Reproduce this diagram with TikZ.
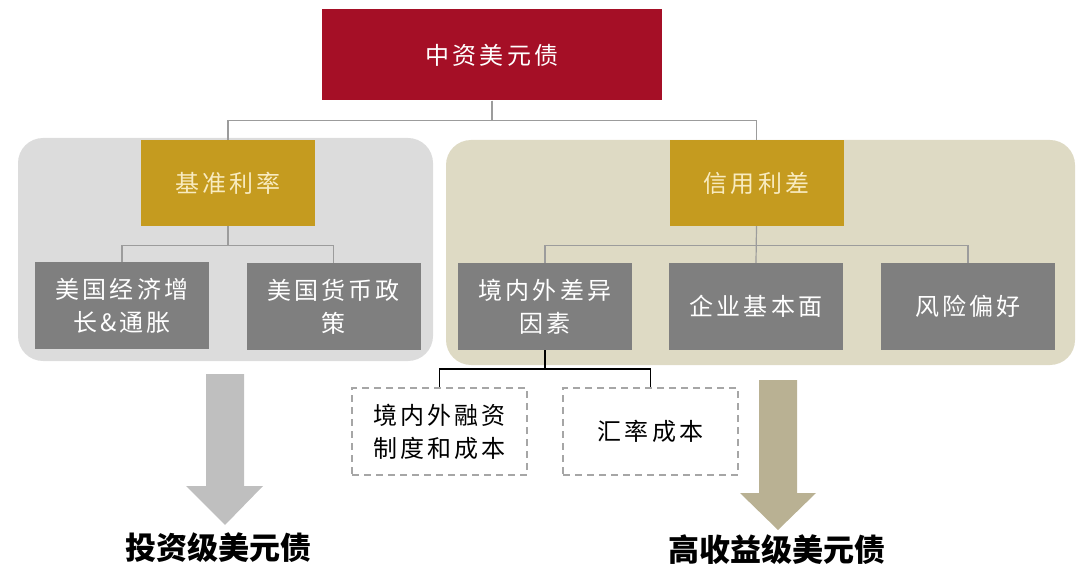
\documentclass[tikz,border=0pt]{standalone}
\usepackage{fontspec}
\newfontfamily\cjk[LetterSpace=13]{Noto Sans CJK SC}
\newfontfamily\cjkb{Noto Sans CJK SC}
\definecolor{topred}{HTML}{A50F26}
\definecolor{gold}{HTML}{C59B1F}
\definecolor{goldtext}{HTML}{F8EBC0}
\definecolor{regiongray}{HTML}{DCDCDC}
\definecolor{regionbeige}{HTML}{DEDAC4}
\definecolor{boxgray}{HTML}{7F7F7F}
\definecolor{conngray}{HTML}{9C9C9C}
\definecolor{dashgray}{HTML}{A6A6A6}
\definecolor{arrowgray}{HTML}{BFBFBF}
\definecolor{arrowkhaki}{HTML}{B9B193}
\begin{document}
\begin{tikzpicture}[x=1pt,y=-1pt,
  box/.style={inner sep=0pt, align=center, font=\cjk\fontsize{24}{33}\selectfont},
  topbox/.style={box, fill=topred, text=white, minimum width=340pt, minimum height=91pt},
  goldbox/.style={box, fill=gold, text=goldtext, minimum width=174pt, minimum height=86pt},
  graybox/.style={box, fill=boxgray, text=white, minimum width=174pt, minimum height=87pt},
  dashbox/.style={box, draw=dashgray, dash pattern=on 7pt off 5pt, line width=1.5pt, text=black, minimum width=175pt, minimum height=87pt},
  conn/.style={draw=conngray, line width=1.2pt},
  blackconn/.style={draw=black, line width=1.5pt},
  result/.style={inner sep=0pt, font=\cjkb\bfseries\fontsize{31}{36}\selectfont, text=black}
]
\useasboundingbox (0,0) rectangle (1080,580);
% regions
\fill[regiongray, rounded corners=25pt] (18,138) rectangle (433,361);
\fill[regionbeige, rounded corners=25pt] (446,140) rectangle (1075,365);
% nodes
\node[topbox] (top) at (492,55) {中资美元债};
\node[goldbox] (g1) at (228,183) {基准利率};
\node[goldbox] (g2) at (756.5,183) {信用利差};
\node[graybox] (a1) at (122,306) {美国经济增\\长\&通胀};
\node[graybox] (a2) at (333.5,307) {美国货币政\\策};
\node[graybox] (b1) at (545,306.5) {境内外差异\\因素};
\node[graybox] (b2) at (756,306.5) {企业基本面};
\node[graybox] (b3) at (968,306.5) {风险偏好};
\node[dashbox] (c1) at (439.5,431.5) {境内外融资\\制度和成本};
\node[dashbox] (c2) at (650.5,431.5) {汇率成本};
% connectors
\draw[conn] (top.south) -- ++(0,20) -| (g1.north);
\draw[conn] (top.south) -- ++(0,20) -| (g2.north);
\draw[conn] (g1.south) -- ++(0,19) -| (a1.north);
\draw[conn] (g1.south) -- ++(0,19) -| (a2.north);
\draw[conn] (g2.south) -- ++(0,19) -| (b1.north);
\draw[conn] (g2.south) -- (b2.north);
\draw[conn] (g2.south) -- ++(0,19) -| (b3.north);
\draw[blackconn] (b1.south) -- ++(0,19) -| (c1.north);
\draw[blackconn] (b1.south) -- ++(0,19) -| (c2.north);
% arrows
\fill[arrowgray] (206,374) -- (244,374) -- (244,486) -- (263,486) -- (225,525) -- (186,486) -- (206,486) -- cycle;
\fill[arrowkhaki] (759,380) -- (797,380) -- (797,493) -- (816,493) -- (778,530) -- (740,493) -- (759,493) -- cycle;
% results
\node[result] (r1) at (218,548) {投资级美元债};
\node[result] (r2) at (777,550) {高收益级美元债};
\end{tikzpicture}
\end{document}
